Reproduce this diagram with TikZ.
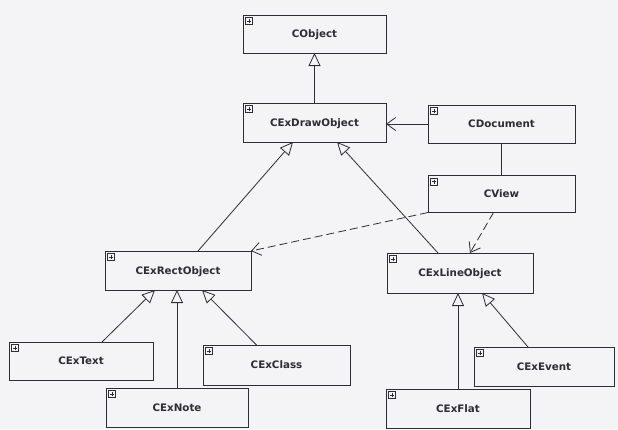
\documentclass[tikz,border=0pt]{standalone}
\usepackage{fontspec}
\setmainfont{DejaVu Sans}
\usetikzlibrary{arrows.meta,calc}
\definecolor{bg}{RGB}{244,244,246}
\definecolor{ink}{RGB}{45,45,50}
\tikzset{
  cls/.style={draw=ink, fill=bg, line width=0.9pt, inner sep=0pt, outer sep=0pt,
    text=ink, font=\bfseries\fontsize{10.3}{12}\selectfont, text depth=0pt,
    path picture={
      \draw[line width=0.45pt, ink]
        ([shift={(2.5pt,-2.5pt)}]path picture bounding box.north west) rectangle
        ([shift={(9.5pt,-9.5pt)}]path picture bounding box.north west);
      \draw[line width=0.45pt, ink]
        ([shift={(4pt,-6pt)}]path picture bounding box.north west) --
        ([shift={(8pt,-6pt)}]path picture bounding box.north west)
        ([shift={(6pt,-4pt)}]path picture bounding box.north west) --
        ([shift={(6pt,-8pt)}]path picture bounding box.north west);
    }},
  inh/.style={draw=ink, line width=0.8pt, -{Triangle[open, length=13pt, width=12pt, fill=bg]}},
  dep/.style={draw=ink, line width=0.8pt, -{Straight Barb[length=9pt, width=13pt]}},
  depdash/.style={dep, dash pattern=on 8pt off 4pt},
  assoc/.style={draw=ink, line width=0.8pt}
}
\begin{document}
\begin{tikzpicture}[x=1pt,y=-1pt]
\fill[bg] (0,0) rectangle (618,429);
\useasboundingbox (0,0) rectangle (618,429);

\node[cls, minimum width=143pt, minimum height=38pt] (cobject) at (314.5,34) {CObject};
\node[cls, minimum width=143pt, minimum height=39pt] (cexdraw) at (314.5,122.5) {CExDrawObject};
\node[cls, minimum width=147pt, minimum height=38pt] (cdoc) at (501.5,124) {CDocument};
\node[cls, minimum width=147pt, minimum height=37pt] (cview) at (501.5,194) {CView};
\node[cls, minimum width=146pt, minimum height=39pt] (cexrect) at (178,270.5) {CExRectObject};
\node[cls, minimum width=146pt, minimum height=40pt] (cexline) at (460,273) {CExLineObject};
\node[cls, minimum width=144pt, minimum height=38pt] (cextext) at (81,361) {CExText};
\node[cls, minimum width=147pt, minimum height=40pt] (cexclass) at (276.5,365) {CExClass};
\node[cls, minimum width=142pt, minimum height=39pt] (cexnote) at (177,407.5) {CExNote};
\node[cls, minimum width=140pt, minimum height=39pt] (cexevent) at (544,366.5) {CExEvent};
\node[cls, minimum width=144pt, minimum height=39pt] (cexflat) at (458,408.5) {CExFlat};

% inheritance
\draw[inh] (cexdraw.north) -- (cobject.south);
\draw[inh] ([xshift=20pt]cexrect.north) -- ([xshift=-21.5pt]cexdraw.south);
\draw[inh] ([xshift=-22pt]cexline.north) -- ([xshift=22.5pt]cexdraw.south);
\draw[inh] ([xshift=21pt]cextext.north) -- ([xshift=-23pt]cexrect.south);
\draw[inh] (cexnote.north) -- (cexnote.north |- cexrect.south);
\draw[inh] ([xshift=-20pt]cexclass.north) -- ([xshift=24pt]cexrect.south);
\draw[inh] (cexflat.north) -- (cexflat.north |- cexline.south);
\draw[inh] ([xshift=-16pt]cexevent.north) -- ([xshift=22pt]cexline.south);

% associations / dependencies
\draw[dep] (cdoc.west) -- (cdoc.west -| cexdraw.east);
\draw[assoc] (cdoc.south) -- (cview.north);
\draw[depdash] (cview.south west) -- (cexrect.north east);
\draw[depdash] ([xshift=-8pt]cview.south) -- ([xshift=10pt]cexline.north);
\end{tikzpicture}
\end{document}
